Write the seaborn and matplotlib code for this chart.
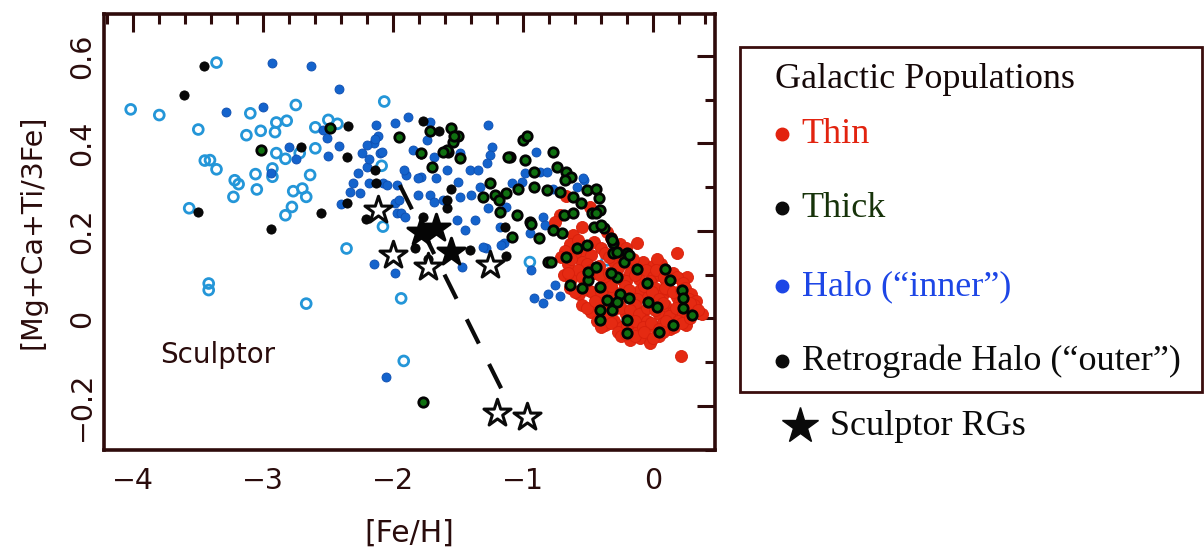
import matplotlib
matplotlib.use("Agg")
import matplotlib.pyplot as plt
from matplotlib.lines import Line2D
from matplotlib.patches import Rectangle
from matplotlib.ticker import MultipleLocator, FixedLocator, FixedFormatter
import seaborn as sns
import pandas as pd

# ---------------- data ----------------
# Metal-poor halo stars (open circles)
open_feh = [-4.02, -3.80, -3.50, -3.36, -3.13, -3.10, -3.02, -2.91, -2.90, -2.82, -2.75, -2.07,
            -3.45, -3.41, -3.36, -3.22, -3.19, -3.23, -3.06, -3.05, -2.93, -2.93, -2.90, -2.83,
            -2.77, -2.70, -2.67, -2.78, -2.83, -2.64, -2.60, -2.72, -2.60, -2.50, -2.43, -3.57,
            -2.36, -2.08, -2.09, -3.42, -3.42, -2.67, -1.94, -1.92, -0.95, -0.36]
open_alpha = [0.478, 0.465, 0.432, 0.585, 0.419, 0.469, 0.429, 0.426, 0.448, 0.452, 0.488, 0.496,
              0.361, 0.362, 0.341, 0.316, 0.307, 0.278, 0.330, 0.295, 0.343, 0.324, 0.378, 0.365,
              0.291, 0.297, 0.278, 0.255, 0.236, 0.328, 0.389, 0.378, 0.437, 0.454, 0.445, 0.252,
              0.160, 0.210, 0.349, 0.080, 0.065, 0.034, 0.046, -0.097, 0.129, 0.133]

# Inner halo
halo_feh = [-2.93, -3.00, -3.29, -2.94, -2.63, -2.42, -2.13, -1.99, -2.42, -2.50, -2.75, -2.12,
            -2.15, -2.24, -2.10, -2.27, -2.20, -2.31, -2.26, -2.33, -2.08, -1.97, -1.99, -1.97,
            -2.15, -1.99, -2.06, -1.96, -1.94, -1.91, -1.81, -1.72, -1.69, -1.90, -1.79, -1.67,
            -1.51, -1.45, -1.37, -1.29, -1.47, -1.15, -1.18, -1.89, -1.72, -1.74, -1.85, -1.69,
            -2.54, -2.51, -2.80, -2.14, -2.20, -2.19, -2.09, -2.19, -2.05, -1.92, -1.81, -1.62,
            -1.27, -1.24, -1.26, -1.28, -1.49, -1.59, -1.41, -1.35, -1.50, -1.49, -1.40, -1.33,
            -0.90, -1.09, -1.01, -0.87, -0.82, -0.77, -1.27, -1.13, -1.17, -1.31, -0.95, -0.85,
            -0.59, -0.53, -0.94, -0.92, -0.85, -0.81, -0.76, -0.72, -0.99, -0.54, -0.83, -2.40]
halo_alpha = [0.585, 0.484, 0.471, 0.332, 0.578, 0.524, 0.442, 0.446, 0.395, 0.371, 0.364, 0.417,
              0.400, 0.378, 0.379, 0.332, 0.347, 0.309, 0.286, 0.290, 0.309, 0.305, 0.263, 0.240,
              0.124, 0.103, -0.134, 0.271, 0.240, 0.232, 0.282, 0.282, 0.267, 0.328, 0.324, 0.320,
              0.225, 0.202, 0.225, 0.160, 0.118, 0.172, 0.210, 0.461, 0.450, 0.408, 0.385, 0.370,
              0.431, 0.412, 0.391, 0.410, 0.397, 0.364, 0.380, 0.309, 0.305, 0.339, 0.320, 0.271,
              0.442, 0.393, 0.374, 0.355, 0.378, 0.339, 0.339, 0.339, 0.313, 0.278, 0.282, 0.301,
              0.381, 0.309, 0.313, 0.335, 0.335, 0.297, 0.252, 0.255, 0.168, 0.164, 0.195, 0.232,
              0.301, 0.316, 0.111, 0.046, 0.036, 0.057, 0.076, 0.051, 0.332, 0.320, 0.213, 0.262]

# Retrograde (outer) halo
retro_feh = [-3.46, -3.61, -3.50, -2.35, -2.71, -2.36, -2.56, -2.94, -2.14, -2.13, -2.36, -2.21,
             -1.77, -1.65, -1.79, -1.70, -1.77, -1.74, -1.83, -1.56, -1.59, -1.73, -1.41, -1.13,
             -1.14, -1.59]
retro_alpha = [0.577, 0.511, 0.244, 0.440, 0.393, 0.370, 0.240, 0.204, 0.339, 0.309, 0.263, 0.227,
               0.451, 0.429, 0.375, 0.347, 0.232, 0.195, 0.160, 0.297, 0.252, 0.137, 0.156, 0.143,
               0.210, 0.271]

# Thin disk
thin_feh = [-0.72, -0.67, -0.49, -0.36, -0.13, 0.18, 0.21, -0.76, -0.62, -0.55,
            -0.64, -0.58, -0.52, -0.46, -0.33, -0.26, -0.21, -0.68, -0.40, -0.56,
            -0.71, -0.66, -0.60, -0.55, -0.48, -0.42, -0.37, -0.30, -0.24, -0.19, -0.13, -0.08, 0.00, 0.06,
            -0.63, -0.51, -0.34, -0.27, -0.16, 0.03, 0.09,
            -0.69, -0.63, -0.58, -0.51, -0.45, -0.38, -0.31, -0.25, -0.18, -0.11, -0.06, 0.00, 0.05, 0.10,
            0.15, 0.21, 0.26,
            -0.66, -0.55, -0.48, -0.41, -0.34, -0.21, -0.14, -0.03, 0.02, 0.08, 0.13, 0.18, 0.23,
            -0.64, -0.57, -0.50, -0.44, -0.37, -0.30, -0.22, -0.16, -0.10, -0.04, 0.01, 0.07, 0.12, 0.18,
            0.24, 0.29,
            -0.60, -0.53, -0.47, -0.40, -0.33, -0.26, -0.19, -0.13, -0.07, -0.01, 0.04, 0.09, 0.15, 0.21,
            0.27, 0.33,
            -0.55, -0.48, -0.42, -0.35, -0.28, -0.21, -0.14, -0.08, -0.02, 0.04, 0.09, 0.15, 0.20, 0.26,
            0.31, 0.37,
            -0.51, -0.45, -0.38, -0.31, -0.25, -0.18, -0.11, -0.05, 0.01, 0.07, 0.12, 0.17, 0.23, 0.28, 0.34,
            -0.43, -0.37, -0.30, -0.24, -0.17, -0.11, -0.05, 0.01, 0.07, 0.13, 0.19, 0.25,
            -0.40, -0.33, -0.27, -0.20, -0.14, -0.08, -0.02, 0.04, 0.10, 0.16, 0.22, 0.28,
            -0.25, -0.18, -0.10, -0.03, 0.04, -0.21, -0.14, -0.07, 0.00, 0.07]
thin_alpha = [0.236, 0.280, 0.255, 0.198, 0.172, 0.150, -0.085, 0.220, 0.190, 0.210,
              0.170, 0.180, 0.165, 0.175, 0.185, 0.170, 0.160, 0.155, 0.160, 0.155,
              0.140, 0.125, 0.150, 0.130, 0.145, 0.120, 0.150, 0.130, 0.140, 0.125, 0.115, 0.130, 0.120, 0.125,
              0.135, 0.125, 0.140, 0.115, 0.135, 0.135, 0.110,
              0.100, 0.090, 0.110, 0.095, 0.105, 0.085, 0.100, 0.090, 0.105, 0.090, 0.110, 0.095, 0.100, 0.085,
              0.105, 0.090, 0.095,
              0.105, 0.095, 0.110, 0.100, 0.105, 0.085, 0.100, 0.085, 0.110, 0.095, 0.090, 0.095, 0.080,
              0.070, 0.055, 0.065, 0.050, 0.070, 0.060, 0.075, 0.055, 0.065, 0.050, 0.070, 0.055, 0.065, 0.050,
              0.070, 0.055,
              0.060, 0.075, 0.060, 0.060, 0.075, 0.045, 0.065, 0.045, 0.075, 0.060, 0.045, 0.070, 0.060, 0.065,
              0.045, 0.040,
              0.030, 0.015, 0.035, 0.020, 0.030, 0.010, 0.030, 0.015, 0.030, 0.010, 0.030, 0.015, 0.035, 0.020,
              0.030, 0.010,
              0.025, 0.040, 0.005, 0.020, 0.025, 0.020, 0.010, 0.025, 0.020, 0.035, 0.005, 0.025, 0.010, 0.035, 0.020,
              -0.005, -0.015, -0.005, -0.020, -0.010, -0.025, -0.005, -0.020, -0.010, -0.025, -0.005, -0.015,
              -0.020, -0.010, -0.030, -0.015, -0.005, -0.020, -0.010, -0.025, -0.005, -0.020, -0.010, 0.000,
              -0.040, -0.050, -0.045, -0.055, -0.040, -0.035, -0.040, -0.030, -0.045, -0.030]

# Thick disk
thick_feh = [-1.96, -1.72, -1.56, -1.50, -1.54, -1.58, -1.49, -1.70, -1.79, -1.10, -1.00, -0.97,
             -0.99, -0.92, -0.77, -0.74, -0.67, -0.63, -1.26, -1.31, -1.22, -1.13, -1.18, -1.05,
             -1.09, -0.95, -0.88, -0.92, -0.82, -0.72, -0.68, -0.62, -0.56, -0.51, -0.44, -0.42,
             -0.41, -0.47, -0.46, -0.38, -0.33, -0.31, -0.70, -0.81, -0.67, -0.59, -0.51, -0.31,
             -0.20, -0.23, -0.13, -0.28, -0.33, 0.09, 0.13, 0.22, 0.23, 0.30, -0.64, -0.55,
             -0.50, -0.41, -0.36, -0.41, -0.26, -0.19, -0.05, 0.03, -0.41, -0.20, 0.15, -0.79,
             -0.50, -0.32, -0.28, -0.20, 0.04, -0.04, 0.23, -0.40, -0.32, -0.19, -0.28, -0.44,
             -0.77, -0.94, -0.69, -0.62, -0.44, -1.53, -1.59, -1.12, -1.04, -1.19, -3.02, -2.49,
             -1.62, -1.77]
thick_alpha = [0.414, 0.429, 0.435, 0.416, 0.404, 0.381, 0.366, 0.346, 0.378, 0.368, 0.408, 0.416,
               0.362, 0.335, 0.381, 0.346, 0.335, 0.324, 0.309, 0.278, 0.282, 0.286, 0.244, 0.236,
               0.187, 0.221, 0.183, 0.301, 0.294, 0.290, 0.316, 0.278, 0.263, 0.294, 0.297, 0.275,
               0.248, 0.240, 0.210, 0.206, 0.183, 0.172, 0.195, 0.130, 0.141, 0.160, 0.168, 0.149,
               0.149, 0.130, 0.114, 0.095, 0.103, 0.114, 0.088, 0.065, 0.046, 0.008, 0.076, 0.069,
               0.088, 0.072, 0.042, 0.019, 0.057, 0.046, 0.080, 0.027, -0.004, -0.004, -0.015, 0.130,
               0.107, 0.019, 0.038, -0.034, -0.031, 0.038, 0.023, 0.213, 0.179, 0.145, 0.152, 0.118,
               0.202, 0.217, 0.236, 0.240, 0.240, 0.416, 0.385, 0.370, 0.297, 0.271, 0.385, 0.435,
               0.381, -0.192]

# Sculptor red giants
scl_open_feh = [-2.12, -2.00, -1.73, -1.26, -1.20, -0.97]
scl_open_alpha = [0.249, 0.145, 0.118, 0.122, -0.217, -0.225]
scl_fill_feh = [-1.79, -1.67, -1.56]
scl_fill_alpha = [0.198, 0.206, 0.152]

# Sculptor trend line
trend_feh = [-1.95, -1.12]
trend_alpha = [0.305, -0.19]

x_ticks = [-4, -3, -2, -1, 0]
x_tick_labels = ["\u22124", "\u22123", "\u22122", "\u22121", "0"]
y_ticks = [-0.2, 0.0, 0.2, 0.4, 0.6]
y_tick_labels = ["\u22120.2", "0", "0.2", "0.4", "0.6"]

legend_title = "Galactic Populations"
legend_labels = ["Thin", "Thick", "Halo (\u201cinner\u201d)", "Retrograde Halo (\u201couter\u201d)"]
legend_bullet_colors = ["#e2230f", "#0b0b0b", "#1d46e6", "#0b0b0b"]
legend_text_colors = ["#e2230f", "#17330a", "#1d46e6", "#0b0b0b"]

# ---------------- style ----------------
sns.set_theme(style="white")
plt.rcParams["font.family"] = ["DejaVu Sans"]
frame_color = "#2e0b0b"
text_color = "#2a0c0c"

fig = plt.figure(figsize=(12.04, 5.49), dpi=100)
ax = fig.add_axes([0.0864, 0.180, 0.5076, 0.7945])

def frame(xs, ys):
    return pd.DataFrame({"feh": xs, "alpha": ys})

sns.scatterplot(data=frame(open_feh, open_alpha), x="feh", y="alpha", ax=ax,
                marker="o", s=50, facecolors="none", edgecolor="#2496d8", linewidth=2.0, zorder=2)
sns.scatterplot(data=frame(halo_feh, halo_alpha), x="feh", y="alpha", ax=ax,
                marker="o", s=42, color="#1463cc", edgecolor="#0e4eb0", linewidth=0.6, zorder=3)
sns.scatterplot(data=frame(retro_feh, retro_alpha), x="feh", y="alpha", ax=ax,
                marker="o", s=44, color="#080808", edgecolor="#000000", linewidth=0.6, zorder=4)
sns.scatterplot(data=frame(thin_feh, thin_alpha), x="feh", y="alpha", ax=ax,
                marker="o", s=75, color="#e52a12", edgecolor="#d8200c", linewidth=0.6, zorder=4)
sns.scatterplot(data=frame(thick_feh, thick_alpha), x="feh", y="alpha", ax=ax,
                marker="o", s=46, color="#0f7010", edgecolor="#030303", linewidth=2.0, zorder=5)

sns.lineplot(x=trend_feh, y=trend_alpha, ax=ax, color="#0a0a0a", linewidth=3.0,
             dashes=False, zorder=6).lines[-1].set_dashes([6.5, 5.5])

sns.scatterplot(x=scl_open_feh, y=scl_open_alpha, ax=ax, marker="*", s=420,
                facecolor="white", edgecolor="#0a0a0a", linewidth=2.2, zorder=7)
sns.scatterplot(x=scl_fill_feh, y=scl_fill_alpha, ax=ax, marker="*", s=420,
                color="#050505", edgecolor="#050505", linewidth=2.2, zorder=7)

ax.text(-3.79, -0.084, "Sculptor", fontsize=20, color=text_color, va="center", ha="left")

ax.set_xlim(-4.225, 0.475)
ax.set_ylim(-0.301, 0.696)
ax.xaxis.set_major_locator(FixedLocator(x_ticks))
ax.xaxis.set_major_formatter(FixedFormatter(x_tick_labels))
ax.yaxis.set_major_locator(FixedLocator(y_ticks))
ax.yaxis.set_major_formatter(FixedFormatter(y_tick_labels))
ax.xaxis.set_minor_locator(MultipleLocator(0.2))
ax.yaxis.set_minor_locator(MultipleLocator(0.1))
ax.tick_params(which="both", direction="in", top=True, right=True, colors=frame_color,
               labelcolor=text_color, width=2.2)
ax.tick_params(which="major", length=13, labelsize=20.5, pad=6)
ax.tick_params(which="minor", length=7)
ax.tick_params(axis="x", which="major", pad=12)
for lab in ax.get_yticklabels():
    lab.set_rotation(90)
    lab.set_va("center")
for sp in ax.spines.values():
    sp.set_color(frame_color)
    sp.set_linewidth(2.6)
    sp.set_visible(True)

ax.set_xlabel("[Fe/H]", fontsize=21.5, color=text_color, labelpad=17)
ax.set_ylabel("[Mg+Ca+Ti/3Fe]", fontsize=20.5, color=text_color, labelpad=15)

# ---------------- legend panel ----------------
W, H = 1204.0, 549.0
fig.add_artist(Rectangle((740 / W, 1 - 391.7 / H), (1202 - 740) / W, (391.7 - 46.7) / H,
                         transform=fig.transFigure, fill=False, edgecolor="#3a0d0d", linewidth=2.0))
serif = ["Liberation Serif", "DejaVu Serif"]
fig.text(775 / W, 1 - 88.3 / H, legend_title, fontsize=26, family=serif, color="#150808", va="baseline")
baselines = [143.3, 216.7, 295.0, 370.0]
for lab, bcol, tcol, yb in zip(legend_labels, legend_bullet_colors, legend_text_colors, baselines):
    fig.add_artist(Line2D([782 / W], [1 - (yb - 9) / H], transform=fig.transFigure, marker="o",
                          markersize=9, color=bcol, linestyle="none"))
    fig.text(801.7 / W, 1 - yb / H, lab, fontsize=26, family=serif, color=tcol, va="baseline")
fig.add_artist(Line2D([800 / W], [1 - 426 / H], transform=fig.transFigure, marker="*",
                      markersize=27, color="#0a0a0a", linestyle="none"))
fig.text(830 / W, 1 - 435 / H, "Sculptor RGs", fontsize=26, family=serif, color="#0a0a0a", va="baseline")

fig.savefig("out.png", dpi=100)
